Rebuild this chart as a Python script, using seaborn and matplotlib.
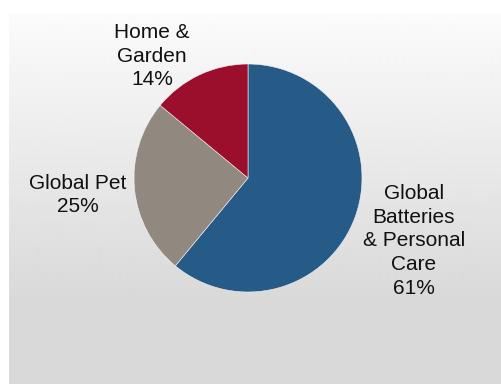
import numpy as np
import matplotlib
matplotlib.use("Agg")
import matplotlib.pyplot as plt
import seaborn as sns

# Net sales mix by segment
segments = ["Global\nBatteries\n& Personal\nCare", "Global Pet", "Home &\nGarden"]
shares = [61, 25, 14]
colors = ["#265B88", "#91887F", "#9B0F2D"]

sns.set_theme(style="white")
plt.rcParams["font.family"] = ["Liberation Sans", "DejaVu Sans"]

W, H, DPI = 501, 384, 100
fig = plt.figure(figsize=(W / DPI, H / DPI), dpi=DPI)
fig.patch.set_facecolor("white")

# Gradient backdrop panel
bg = fig.add_axes([9 / W, 0, 1 - 9 / W, 1 - 13 / H])
bg.set_axis_off()
rows = 371
t = np.clip(np.arange(rows) / 285.0, 0, 1)
top, bottom = 0.985, 0.851
col = top + (bottom - top) * t
grad = np.repeat(col[:, None], 2, axis=1)
bg.imshow(grad, cmap="gray", vmin=0, vmax=1, aspect="auto",
          extent=[0, 1, 0, 1], interpolation="bilinear")

# Pie
cx, cy, r = 248, 178, 114
ax = fig.add_axes([(cx - r) / W, (H - cy - r) / H, 2 * r / W, 2 * r / H])
ax.set_axis_off()
ax.pie(shares, colors=colors, startangle=90, counterclock=False,
       wedgeprops=dict(linewidth=0.4, edgecolor="#f4f4f4"), radius=1.0)
ax.set_xlim(-1, 1)
ax.set_ylim(-1, 1)

# Category labels with shares
label_pos = [(414, 241), (78, 195), (152, 56)]
for name, val, (px, py) in zip(segments, shares, label_pos):
    fig.text(px / W, 1 - py / H, f"{name}\n{val}%", ha="center", va="center",
             fontsize=15.0, color="#111111", linespacing=1.33)

fig.savefig("out.png", dpi=DPI)
